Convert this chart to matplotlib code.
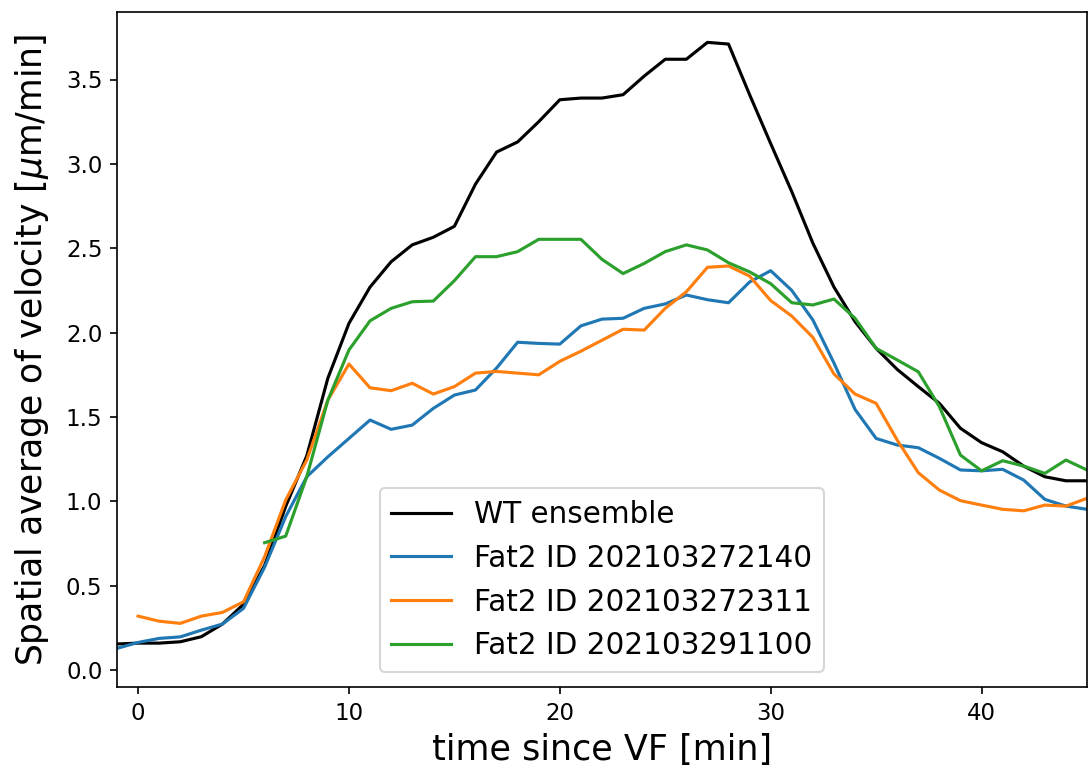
import numpy as np
import matplotlib

matplotlib.use("Agg")
import matplotlib.pyplot as plt

# Time axis [min]
t_wt = np.arange(-1, 46)
t_a = np.arange(-1, 46)
t_b = np.arange(0, 46)
t_c = np.arange(6, 46)

# WT ensemble, t = -1 ... 45
v_wt = [0.155, 0.16, 0.16, 0.168, 0.198, 0.273, 0.39, 0.62, 0.97, 1.27,
        1.73, 2.055, 2.27, 2.42, 2.52, 2.565, 2.63, 2.88, 3.07, 3.13,
        3.25, 3.38, 3.39, 3.39, 3.41, 3.52, 3.62, 3.62, 3.72, 3.71,
        3.41, 3.12, 2.835, 2.53, 2.27, 2.065, 1.907, 1.782, 1.68, 1.581,
        1.433, 1.348, 1.294, 1.209, 1.146, 1.122, 1.122]

# Fat2 ID 202103272140, t = -1 ... 45
v_a = [0.129, 0.164, 0.188, 0.197, 0.237, 0.273, 0.366, 0.61, 0.91, 1.146,
       1.264, 1.373, 1.482, 1.427, 1.452, 1.551, 1.63, 1.66, 1.79, 1.943,
       1.936, 1.932, 2.04, 2.08, 2.085, 2.144, 2.17, 2.223, 2.195, 2.177,
       2.30, 2.367, 2.25, 2.075, 1.82, 1.545, 1.373, 1.334, 1.318, 1.255,
       1.186, 1.181, 1.19, 1.126, 1.012, 0.972, 0.953]

# Fat2 ID 202103272311, t = 0 ... 45
v_b = [0.32, 0.29, 0.277, 0.32, 0.342, 0.405, 0.672, 1.008, 1.245, 1.60,
       1.814, 1.673, 1.656, 1.70, 1.636, 1.68, 1.76, 1.77, 1.76, 1.75,
       1.83, 1.89, 1.955, 2.02, 2.015, 2.144, 2.242, 2.387, 2.395, 2.335,
       2.19, 2.098, 1.972, 1.755, 1.636, 1.581, 1.363, 1.17, 1.067, 1.004,
       0.978, 0.953, 0.944, 0.978, 0.972, 1.018]

# Fat2 ID 202103291100, t = 6 ... 45
v_c = [0.755, 0.794, 1.146, 1.60, 1.897, 2.07, 2.144, 2.183, 2.187, 2.308,
       2.45, 2.45, 2.48, 2.553, 2.553, 2.553, 2.434, 2.35, 2.41, 2.48,
       2.52, 2.49, 2.414, 2.36, 2.29, 2.177, 2.164, 2.199, 2.085, 1.907,
       1.838, 1.768, 1.561, 1.274, 1.181, 1.241, 1.209, 1.166, 1.245, 1.186]

labels = ["WT ensemble", "Fat2 ID 202103272140", "Fat2 ID 202103272311",
          "Fat2 ID 202103291100"]

fig = plt.figure(figsize=(1092 / 150, 773 / 150), dpi=150)
ax = fig.add_axes([117 / 1092, 1 - 687 / 773, (1087 - 117) / 1092, (687 - 12) / 773])

ax.plot(t_wt, v_wt, color="black", label=labels[0])
ax.plot(t_a, v_a, color="tab:blue", label=labels[1])
ax.plot(t_b, v_b, color="tab:orange", label=labels[2])
ax.plot(t_c, v_c, color="tab:green", label=labels[3])

ax.set_xlim(-1, 45)
ax.set_ylim(-0.1, 3.9)
ax.tick_params(labelsize=11)
ax.set_xlabel("time since VF [min]", fontsize=16.8)
ax.set_ylabel(r"Spatial average of velocity [$\mu$m/min]", fontsize=16.6, labelpad=7)
ax.legend(loc="lower center", fontsize=14.2)

fig.savefig("out.png", dpi=150)
